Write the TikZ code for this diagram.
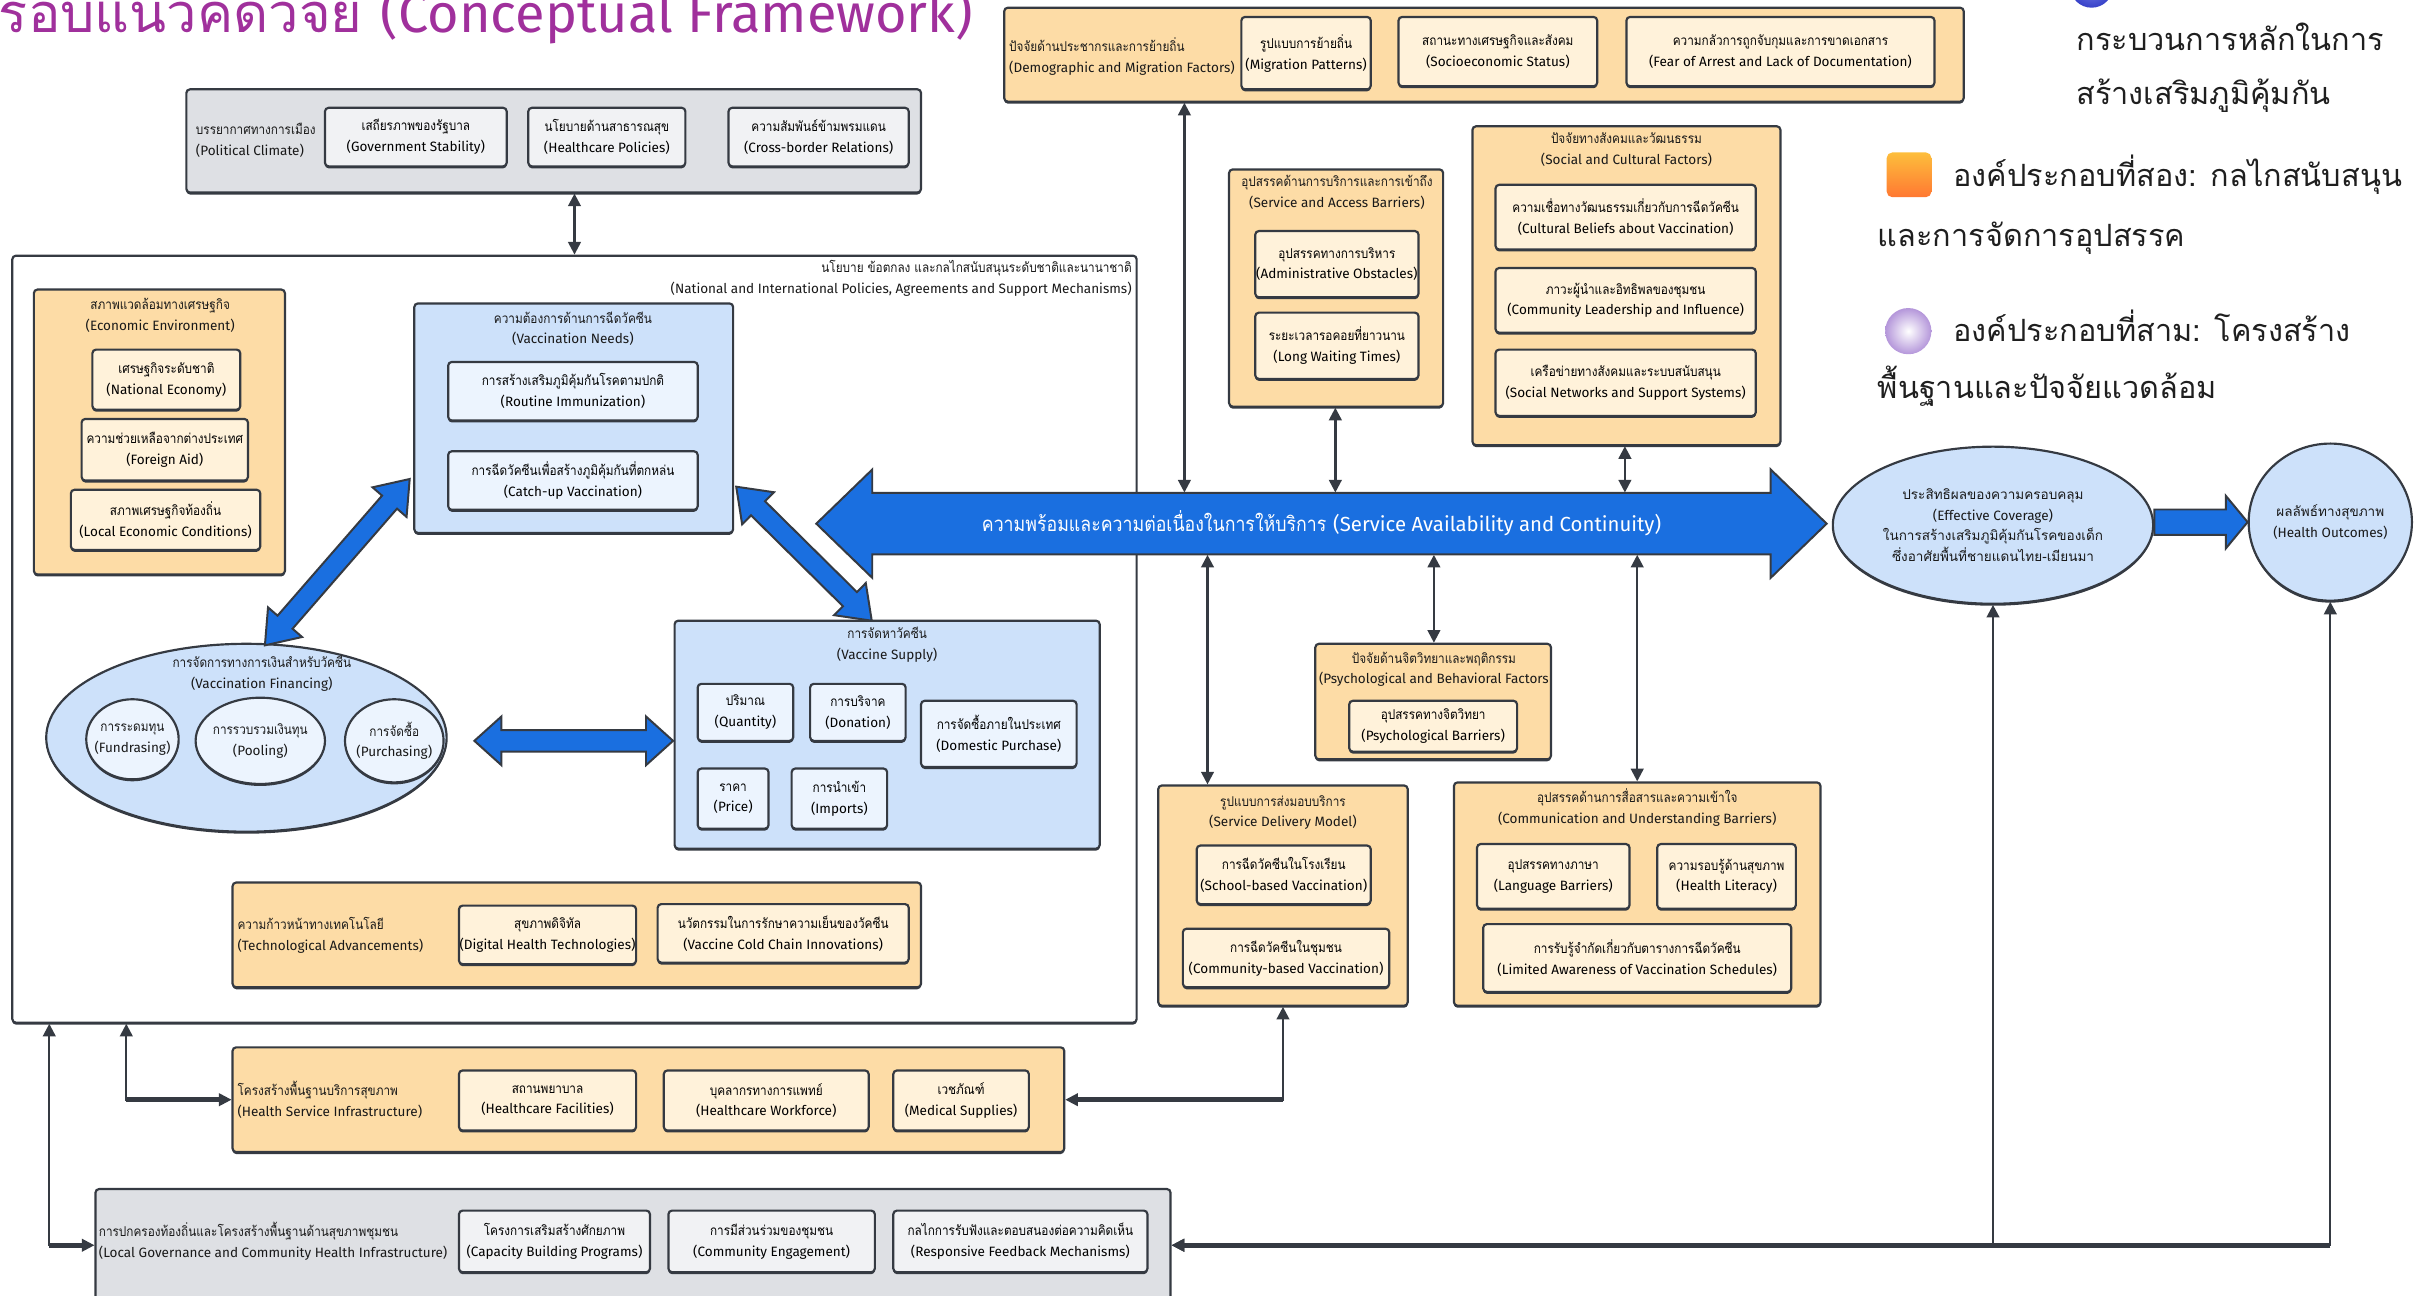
\documentclass[tikz,border=0pt]{standalone}
\usepackage{fontspec}
\setmainfont[Script=Thai]{Loma}
\newfontfamily\thx[Script=Thai, FakeStretch=0.87]{Loma}
\newfontfamily\thn[Script=Thai]{Loma}
\newfontfamily\lat[Scale=1.0]{Fira Sans}
\usetikzlibrary{arrows.meta,shapes.geometric,calc,shadows}

\definecolor{edge}{HTML}{353A42}
\definecolor{orO}{HTML}{FDDCA6}
\definecolor{orI}{HTML}{FFF2DA}
\definecolor{blO}{HTML}{CDE1FA}
\definecolor{blI}{HTML}{ECF4FE}
\definecolor{grO}{HTML}{DEE0E4}
\definecolor{grI}{HTML}{F1F2F4}
\definecolor{flow}{HTML}{1A6FE0}
\definecolor{ttl}{HTML}{A0309C}

\newcommand{\smtxt}{\fontsize{7.5}{11.5}\selectfont}
% two-line label: condensed Thai over English
\newcommand{\tl}[2]{{\thx #1}\\{\lat #2}}
% two-line label inside ellipses: regular Thai over English
\newcommand{\tle}[2]{{\thn #1}\\{\lat #2}}

% box from (x1,y1) to (x2,y2): name, style, x1, y1, x2, y2, text
\newcommand{\bx}[7]{\node[#2, minimum width={(#5-#3)*0.03cm}, minimum height={(#6-#4)*0.03cm}] (#1) at ({(#3+#5)/2},{(#4+#6)/2}) {#7};}

% double-headed block arrow: from, to, half shaft, half head, head length
\newcommand{\dblk}[5]{%
  \draw[blk] let \p1=(#1), \p2=(#2), \n1={atan2(\y2-\y1,\x2-\x1)} in
    (\p1) -- ($(\p1)+({\n1}:#5)+({\n1+90}:#4)$) -- ($(\p1)+({\n1}:#5)+({\n1+90}:#3)$)
    -- ($(\p2)+({\n1+180}:#5)+({\n1+90}:#3)$) -- ($(\p2)+({\n1+180}:#5)+({\n1+90}:#4)$)
    -- (\p2) -- ($(\p2)+({\n1+180}:#5)+({\n1-90}:#4)$) -- ($(\p2)+({\n1+180}:#5)+({\n1-90}:#3)$)
    -- ($(\p1)+({\n1}:#5)+({\n1-90}:#3)$) -- ($(\p1)+({\n1}:#5)+({\n1-90}:#4)$) -- cycle;}

% single-headed block arrow: from, to, half shaft, half head, head length
\newcommand{\sblk}[5]{%
  \draw[blk] let \p1=(#1), \p2=(#2), \n1={atan2(\y2-\y1,\x2-\x1)} in
    ($(\p1)+({\n1+90}:#3)$) -- ($(\p2)+({\n1+180}:#5)+({\n1+90}:#3)$)
    -- ($(\p2)+({\n1+180}:#5)+({\n1+90}:#4)$) -- (\p2)
    -- ($(\p2)+({\n1+180}:#5)+({\n1-90}:#4)$) -- ($(\p2)+({\n1+180}:#5)+({\n1-90}:#3)$)
    -- ($(\p1)+({\n1-90}:#3)$) -- cycle;}

\tikzset{
  base/.style={draw=edge, line width=1.2pt, rounded corners=2pt, inner sep=0pt, align=center, font=\smtxt,
    drop shadow={shadow xshift=0pt, shadow yshift=-1.1pt, fill=edge, opacity=1}},
  oO/.style={base, fill=orO},
  oI/.style={base, fill=orI},
  bO/.style={base, fill=blO},
  bI/.style={base, fill=blI},
  gO/.style={base, fill=grO},
  gI/.style={base, fill=grI},
  wbox/.style={base, fill=white},
  eO/.style={base, fill=blO, ellipse},
  eI/.style={base, fill=blI, ellipse},
  lbl/.style={align=center, font=\smtxt, inner sep=0pt, text=black!90},
  leg/.style={font=\fontsize{17}{30}\selectfont, inner sep=0pt, text=black!88},
  conn/.style={draw=edge, line width=1.3pt, {Triangle[length=7pt,width=7pt]}-{Triangle[length=7pt,width=7pt]}},
  bus/.style={draw=edge, line width=2.6pt},
  blk/.style={draw=edge, line width=1.1pt, fill=flow, line join=miter},
}

\begin{document}
\begin{tikzpicture}[x=0.03cm, y=-0.03cm]
\useasboundingbox (0,0) rectangle (1568,841);
\clip (0,0) rectangle (1568,841);

% ---------- title ----------
\node[anchor=base east, text=ttl, font=\fontsize{30}{34}\selectfont, inner sep=0pt] (title) at (632,21) {{\thn กรอบแนวคิดวิจัย} {\lat (Conceptual Framework)}};

% ---------- legend ----------
\shade[inner color={rgb,255:red,120;green,130;blue,235}, outer color={rgb,255:red,55;green,65;blue,200}] (1358,-9) circle[radius=0.42cm];
\node[leg, anchor=base west] (lg1a) at (1348,33) {กระบวนการหลักในการ};
\node[leg, anchor=base west] (lg1b) at (1348,68) {สร้างเสริมภูมิคุ้มกัน};
\shade[top color={rgb,255:red,253;green,190;blue,60}, bottom color={rgb,255:red,255;green,120;blue,50}, rounded corners=3pt] (1225,99) rectangle (1254,128);
\node[leg, anchor=base west] (lg2a) at (1268,121) {องค์ประกอบที่สอง: กลไกสนับสนุน};
\node[leg, anchor=base west] (lg2b) at (1219,160) {และการจัดการอุปสรรค};
\shade[inner color=white, outer color={rgb,255:red,180;green,150;blue,218}] (1239,215) circle[radius=0.45cm];
\node[leg, anchor=base west] (lg3a) at (1268,222) {องค์ประกอบที่สาม: โครงสร้าง};
\node[leg, anchor=base west] (lg3b) at (1219,259) {พื้นฐานและปัจจัยแวดล้อม};

% ---------- political climate ----------
\bx{pol}{gO}{121}{58}{598}{125}{}
\node[lbl, anchor=west, align=left] (polT) at (127,91) {\tl{บรรยากาศทางการเมือง}{(Political Climate)}};
\bx{polA}{gI}{211}{70}{329}{108}{\tl{เสถียรภาพของรัฐบาล}{(Government Stability)}}
\bx{polB}{gI}{343}{70}{445}{108}{\tl{นโยบายด้านสาธารณสุข}{(Healthcare Policies)}}
\bx{polC}{gI}{473}{70}{590}{108}{\tl{ความสัมพันธ์ข้ามพรมแดน}{(Cross-border Relations)}}

% ---------- demographic and migration ----------
\bx{demo}{oO}{652}{5}{1275}{66}{}
\node[lbl, anchor=west, align=left] (demoT) at (655,36.5) {\tl{ปัจจัยด้านประชากรและการย้ายถิ่น}{(Demographic and Migration Factors)}};
\bx{demoA}{oI}{806}{11}{890}{58}{\tl{รูปแบบการย้ายถิ่น}{(Migration Patterns)}}
\bx{demoB}{oI}{908}{11}{1037}{56}{\tl{สถานะทางเศรษฐกิจและสังคม}{(Socioeconomic Status)}}
\bx{demoC}{oI}{1056}{11}{1256}{56}{\tl{ความกลัวการถูกจับกุมและการขาดเอกสาร}{(Fear of Arrest and Lack of Documentation)}}

% ---------- national and international policies ----------
\bx{natl}{wbox}{8}{166}{738}{664}{}
\node[lbl, anchor=east, align=right] (natlT) at (735,180.5) {\tl{นโยบาย ข้อตกลง และกลไกสนับสนุนระดับชาติและนานาชาติ}{(National and International Policies, Agreements and Support Mechanisms)}};

% economic environment
\bx{econ}{oO}{22}{188}{185}{373}{}
\node[lbl] (econT) at (104,204.5) {\tl{สภาพแวดล้อมทางเศรษฐกิจ}{(Economic Environment)}};
\bx{econA}{oI}{60}{227}{156}{266}{\tl{เศรษฐกิจระดับชาติ}{(National Economy)}}
\bx{econB}{oI}{53}{272}{161}{312}{\tl{ความช่วยเหลือจากต่างประเทศ}{(Foreign Aid)}}
\bx{econC}{oI}{46}{318}{169}{357}{\tl{สภาพเศรษฐกิจท้องถิ่น}{(Local Economic Conditions)}}

% vaccination needs
\bx{needs}{bO}{269}{197}{476}{346}{}
\node[lbl] (needsT) at (372,213.5) {\tl{ความต้องการด้านการฉีดวัคซีน}{(Vaccination Needs)}};
\bx{needsA}{bI}{291}{235}{453}{273}{\tl{การสร้างเสริมภูมิคุ้มกันโรคตามปกติ}{(Routine Immunization)}}
\bx{needsB}{bI}{291}{293}{453}{331}{\tl{การฉีดวัคซีนเพื่อสร้างภูมิคุ้มกันที่ตกหล่น}{(Catch-up Vaccination)}}

% vaccination financing
\bx{fin}{eO}{30}{418}{290}{540}{}
\node[lbl] (finT) at (170,437.5) {\tl{การจัดการทางการเงินสำหรับวัคซีน}{(Vaccination Financing)}};
\bx{finA}{eI}{56}{454}{116}{506}{}
\node[lbl] (finAT) at (finA) {\tl{การระดมทุน}{(Fundrasing)}};
\bx{finB}{eI}{127}{453}{211}{509}{}
\node[lbl] (finBT) at (finB) {\tl{การรวบรวมเงินทุน}{(Pooling)}};
\bx{finC}{eI}{224}{454}{288}{508}{}
\node[lbl] (finCT) at (finC) {\tl{การจัดซื้อ}{(Purchasing)}};

% vaccine supply
\bx{sup}{bO}{438}{403}{714}{551}{}
\node[lbl] (supT) at (576,418.5) {\tl{การจัดหาวัคซีน}{(Vaccine Supply)}};
\bx{supA}{bI}{453}{444}{515}{481}{\tl{ปริมาณ}{(Quantity)}}
\bx{supB}{bI}{526}{444}{588}{481}{\tl{การบริจาค}{(Donation)}}
\bx{supC}{bI}{598}{455}{699}{498}{\tl{การจัดซื้อภายในประเทศ}{(Domestic Purchase)}}
\bx{supD}{bI}{453}{499}{499}{538}{\tl{ราคา}{(Price)}}
\bx{supE}{bI}{514}{499}{576}{538}{\tl{การนำเข้า}{(Imports)}}

% technological advancements
\bx{tech}{oO}{151}{573}{598}{641}{}
\node[lbl, anchor=west, align=left] (techT) at (154,607.5) {\tl{ความก้าวหน้าทางเทคโนโลยี}{(Technological Advancements)}};
\bx{techA}{oI}{298}{588}{413}{626}{\tl{สุขภาพดิจิทัล}{(Digital Health Technologies)}}
\bx{techB}{oI}{427}{587}{590}{625}{\tl{นวัตกรรมในการรักษาความเย็นของวัคซีน}{(Vaccine Cold Chain Innovations)}}

% ---------- health service infrastructure ----------
\bx{infra}{oO}{151}{680}{691}{748}{}
\node[lbl, anchor=west, align=left] (infraT) at (154,714) {\tl{โครงสร้างพื้นฐานบริการสุขภาพ}{(Health Service Infrastructure)}};
\bx{infraA}{oI}{298}{695}{413}{734}{\tl{สถานพยาบาล}{(Healthcare Facilities)}}
\bx{infraB}{oI}{431}{695}{564}{734}{\tl{บุคลากรทางการแพทย์}{(Healthcare Workforce)}}
\bx{infraC}{oI}{580}{695}{668}{734}{\tl{เวชภัณฑ์}{(Medical Supplies)}}

% ---------- local governance ----------
\bx{lgov}{gO}{62}{772}{760}{845}{}
\node[lbl, anchor=west, align=left] (lgovT) at (64,806) {\tl{การปกครองท้องถิ่นและโครงสร้างพื้นฐานด้านสุขภาพชุมชน}{(Local Governance and Community Health Infrastructure)}};
\bx{lgovA}{gI}{298}{786}{422}{826}{\tl{โครงการเสริมสร้างศักยภาพ}{(Capacity Building Programs)}}
\bx{lgovB}{gI}{434}{786}{568}{826}{\tl{การมีส่วนร่วมของชุมชน}{(Community Engagement)}}
\bx{lgovC}{gI}{580}{786}{745}{826}{\tl{กลไกการรับฟังและตอบสนองต่อความคิดเห็น}{(Responsive Feedback Mechanisms)}}

% ---------- service and access barriers ----------
\bx{sab}{oO}{798}{110}{937}{264}{}
\node[lbl] (sabT) at (868,125) {\tl{อุปสรรคด้านการบริการและการเข้าถึง}{(Service and Access Barriers)}};
\bx{sabA}{oI}{815}{150}{921}{193}{\tl{อุปสรรคทางการบริหาร}{(Administrative Obstacles)}}
\bx{sabB}{oI}{815}{203}{921}{246}{\tl{ระยะเวลารอคอยที่ยาวนาน}{(Long Waiting Times)}}

% ---------- social and cultural factors ----------
\bx{socc}{oO}{956}{82}{1156}{289}{}
\node[lbl] (soccT) at (1056,97) {\tl{ปัจจัยทางสังคมและวัฒนธรรม}{(Social and Cultural Factors)}};
\bx{soccA}{oI}{971}{120}{1140}{162}{\tl{ความเชื่อทางวัฒนธรรมเกี่ยวกับการฉีดวัคซีน}{(Cultural Beliefs about Vaccination)}}
\bx{soccB}{oI}{971}{174}{1140}{216}{\tl{ภาวะผู้นำและอิทธิพลของชุมชน}{(Community Leadership and Influence)}}
\bx{soccC}{oI}{971}{227}{1140}{270}{\tl{เครือข่ายทางสังคมและระบบสนับสนุน}{(Social Networks and Support Systems)}}

% ---------- psychological and behavioural factors ----------
\bx{psy}{oO}{854}{418}{1007}{493}{}
\node[lbl] (psyT) at (931,434.5) {\tl{ปัจจัยด้านจิตวิทยาและพฤติกรรม}{(Psychological and Behavioral Factors}};
\bx{psyA}{oI}{876}{455}{985}{488}{\tl{อุปสรรคทางจิตวิทยา}{(Psychological Barriers)}}

% ---------- service delivery model ----------
\bx{sdm}{oO}{752}{510}{914}{653}{}
\node[lbl] (sdmT) at (833,527.5) {\tl{รูปแบบการส่งมอบบริการ}{(Service Delivery Model)}};
\bx{sdmA}{oI}{777}{549}{890}{587}{\tl{การฉีดวัคซีนในโรงเรียน}{(School-based Vaccination)}}
\bx{sdmB}{oI}{768}{603}{902}{641}{\tl{การฉีดวัคซีนในชุมชน}{(Community-based Vaccination)}}

% ---------- communication and understanding barriers ----------
\bx{comm}{oO}{944}{508}{1182}{653}{}
\node[lbl] (commT) at (1063,524.5) {\tl{อุปสรรคด้านการสื่อสารและความเข้าใจ}{(Communication and Understanding Barriers)}};
\bx{commA}{oI}{959}{548}{1058}{590}{\tl{อุปสรรคทางภาษา}{(Language Barriers)}}
\bx{commB}{oI}{1076}{548}{1166}{590}{\tl{ความรอบรู้ด้านสุขภาพ}{(Health Literacy)}}
\bx{commC}{oI}{963}{600}{1163}{644}{\tl{การรับรู้จำกัดเกี่ยวกับตารางการฉีดวัคซีน}{(Limited Awareness of Vaccination Schedules)}}

% ---------- coverage and outcomes ----------
\bx{eff}{eO}{1190}{290}{1398}{392}{}
\node[lbl] (effT) at (eff) {\tle{ประสิทธิผลของความครอบคลุม}{(Effective Coverage)}\\{\thn ในการสร้างเสริมภูมิคุ้มกันโรคของเด็ก}\\{\thn ซึ่งอาศัยพื้นที่ชายแดนไทย-เมียนมา}};
\bx{health}{eO}{1460}{288}{1566}{390}{}
\node[lbl] (healthT) at (health) {\tle{ผลลัพธ์ทางสุขภาพ}{(Health Outcomes)}};

% ---------- block arrows ----------
\coordinate (sacL) at (530,340);
\coordinate (sacR) at (1186,340);
\dblk{sacL}{sacR}{17pt}{30pt}{31pt}
\node[inner sep=0pt, minimum width={584*0.03cm}, minimum height={40*0.03cm}, text=white, font=\fontsize{11.3}{13}\selectfont] (sac) at (858,340) {{\thx ความพร้อมและความต่อเนื่องในการให้บริการ} {\lat (Service Availability and Continuity)}};

\coordinate (b1a) at (266,311);
\coordinate (b1b) at (172,419);
\dblk{b1a}{b1b}{5.5pt}{12.5pt}{17pt}
\coordinate (b2a) at (478,316);
\coordinate (b2b) at (566,403);
\dblk{b2a}{b2b}{5.5pt}{12.5pt}{17pt}
\coordinate (b3a) at (308,481);
\coordinate (b3b) at (437,481);
\dblk{b3a}{b3b}{6pt}{13.5pt}{15pt}
\coordinate (e2h) at (1460,339);
\sblk{eff.east |- e2h}{health.west |- e2h}{7pt}{14.5pt}{12pt}

% ---------- connectors ----------
\coordinate (c373) at (373,0);
\coordinate (c769) at (769,0);
\coordinate (c867) at (867,0);
\coordinate (c1055) at (1055,0);
\coordinate (c784) at (784,0);
\coordinate (c931) at (931,0);
\coordinate (c1063) at (1063,0);
\coordinate (c82) at (82,0);
\coordinate (c32) at (32,0);

\draw[conn] (pol.south -| c373) -- (natl.north -| c373);
\draw[conn] (demo.south -| c769) -- (sac.north -| c769);
\draw[conn] (sab.south -| c867) -- (sac.north -| c867);
\draw[conn] (socc.south -| c1055) -- (sac.north -| c1055);
\draw[conn] (sac.south -| c784) -- (sdm.north -| c784);
\draw[conn] (sac.south -| c931) -- (psy.north -| c931);
\draw[conn] (sac.south -| c1063) -- (comm.north -| c1063);

% elbow connectors with heavier horizontal runs
\draw[bus] (c82 |- infra.west) -- ([xshift=-6pt]infra.west);
\draw[bus] (sdm.south |- infra.east) -- ([xshift=6pt]infra.east);
\draw[bus] (c32 |- lgov.west) -- ([xshift=-6pt]lgov.west);
\draw[bus] (health.south |- lgov.east) -- ([xshift=6pt]lgov.east);
\draw[conn] (natl.south -| c82) |- (infra.west);
\draw[conn] (natl.south -| c32) |- (lgov.west);
\draw[conn] (sdm.south) |- (infra.east);
\draw[conn] (eff.south) |- (lgov.east);
\draw[conn] (health.south) |- (lgov.east);
\end{tikzpicture}
\end{document}
